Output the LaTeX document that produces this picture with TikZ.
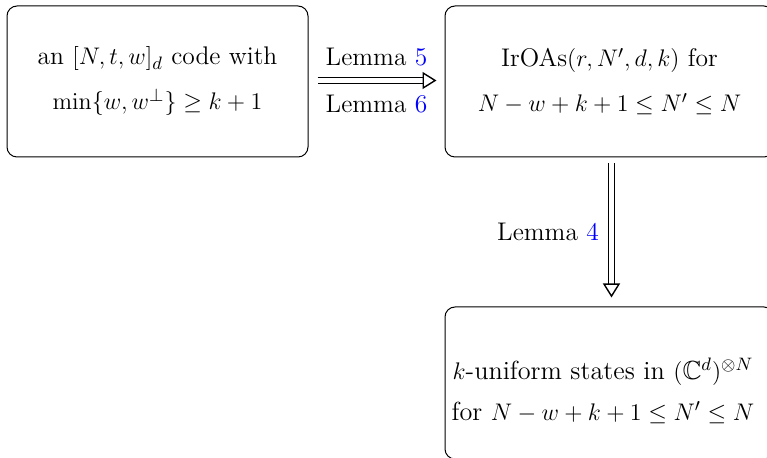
\documentclass[tikz,border=0pt]{standalone}
\usepackage{amssymb}
\usetikzlibrary{arrows.meta}
\begin{document}
\begin{tikzpicture}[x=0.5pt,y=-0.5pt,
  box/.style={draw, rounded corners=5pt, line width=0.5pt, inner sep=0pt,
    minimum width=150.5pt, minimum height=75.5pt, align=center,
    font=\fontsize{12.75}{22.5}\selectfont},
  boxwide/.style={box, minimum width=164.5pt},
  txt/.style={align=center, inner sep=0pt, font=\fontsize{13.1}{20.5}\selectfont},
  lem/.style={font=\fontsize{12.75}{14}\selectfont, inner sep=0pt},
  dbl/.style={line width=0.7pt, double, double distance=2.1pt,
    -{Triangle[open, length=7pt, width=8.5pt]}},
]
\useasboundingbox (0,0) rectangle (767,458);
\clip (0,0) rectangle (767,458);
\node[box] (code) at (157.5,81.5)
  {an $[N,t,w]_d$ code with\\ $\min\{w,w^{\perp}\}\geq k+1$};
\node[boxwide] (oa) at (609.5,81.5)
  {IrOAs$(r,N',d,k)$ for\\ $N-w+k+1\leq N'\leq N$};
\node[boxwide, minimum height=76pt] (st) at (609.5,383) {};
\node[txt] (sttext) at (603,391)
  {$k$-uniform states in $(\mathbb{C}^d)^{\otimes N}$\\ for $N-w+k+1\leq N'\leq N$};
\coordinate (vx) at (611.5,0);
\coordinate (hy) at (0,80.5);
\draw[dbl, shorten <=4.5pt, shorten >=4pt] (code.east |- hy) -- (oa.west |- hy)
  node[lem, midway, above=7pt] (l5) {Lemma \textcolor{blue}{5}}
  node[lem, midway, below=7pt] (l6) {Lemma \textcolor{blue}{6}};
\draw[dbl, shorten <=3pt, shorten >=4.5pt] (oa.south -| vx) -- (st.north -| vx)
  node[lem, midway, left=6pt] (l4) {Lemma \textcolor{blue}{4}};
\end{tikzpicture}
\end{document}
